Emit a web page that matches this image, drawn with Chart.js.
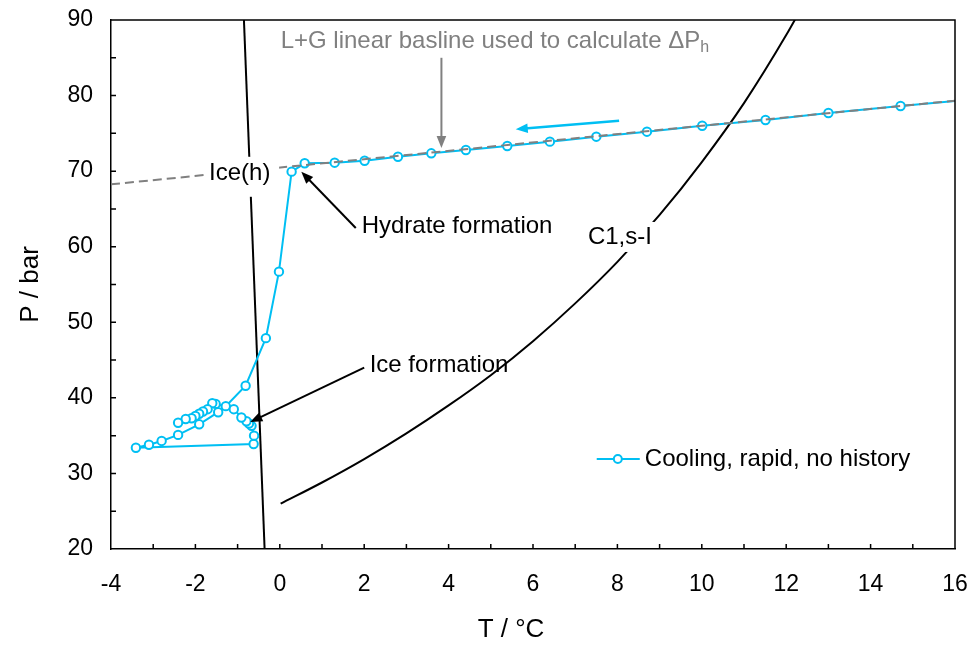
<!DOCTYPE html>
<html>
<head>
<meta charset="utf-8">
<title>Pressure-temperature trace</title>
<script src="https://cdn.jsdelivr.net/npm/chart.js@4.4.0/dist/chart.umd.min.js"></script>
<style>
  html, body { margin: 0; padding: 0; background: #ffffff; }
</style>
</head>
<body>
<canvas id="ptChart" width="973" height="646"></canvas>
<script>
// cooling run, rapid, no history (T in degC, P in bar), in measurement order
const coolT = [16.4, 14.71, 13.00, 11.51, 10.01, 8.70, 7.50, 6.40, 5.39, 4.41, 3.59, 2.80, 2.01, 1.30, 0.59, 0.28,
  -0.02, -0.33, -0.81, -1.28, -1.46, -1.91, -2.41, -2.80, -3.10, -3.41,
  -0.62, -0.61, -0.67, -0.73, -0.79, -0.91, -1.09, -1.52, -1.60, -1.71, -1.82, -1.91, -2.00, -2.09, -2.23, -2.41];
const coolP = [79.5, 78.62, 77.69, 76.77, 76.01, 75.22, 74.56, 73.90, 73.33, 72.80, 72.36, 71.91, 71.38, 71.12, 71.04, 69.93,
  56.7, 47.9, 41.6, 38.9, 38.1, 36.5, 35.1, 34.3, 33.8, 33.4,
  33.9, 35.0, 36.3, 36.6, 36.9, 37.4, 38.5, 39.2, 39.3, 38.5, 38.2, 37.9, 37.6, 37.3, 37.2, 36.7];

// ice Ih melting line
const iceT = [-0.85, -0.36];
const iceP = [90, 20];

// methane s-I hydrate equilibrium
const hydT = [0.02, 1, 2, 3, 4, 5, 6, 7, 8, 9, 10, 11, 12, 12.5];
const hydP = [26.0, 28.8, 31.9, 35.3, 39.0, 43.0, 47.5, 52.5, 58.0, 64.2, 71.2, 79.0, 88.0, 93.0];

// L+G linear baseline
const baseT = [-4, 16];
const baseP = [68.26, 79.33];

const xRange = [-4, 16];
const yRange = [20, 90];

const BLUE = '#00BFF3';
const GREY = '#808080';
const FONT = '"Liberation Sans", Arial, sans-serif';

const pts = (xs, ys) => xs.map((x, i) => ({ x: x, y: ys[i] }));

function arrow(ctx, x1, y1, x2, y2, color, width, head) {
  const a = Math.atan2(y2 - y1, x2 - x1);
  ctx.save();
  ctx.strokeStyle = color;
  ctx.fillStyle = color;
  ctx.lineWidth = width;
  ctx.beginPath();
  ctx.moveTo(x1, y1);
  ctx.lineTo(x2 - Math.cos(a) * head * 0.7, y2 - Math.sin(a) * head * 0.7);
  ctx.stroke();
  ctx.beginPath();
  ctx.moveTo(x2, y2);
  ctx.lineTo(x2 - head * Math.cos(a - 0.38), y2 - head * Math.sin(a - 0.38));
  ctx.lineTo(x2 - head * Math.cos(a + 0.38), y2 - head * Math.sin(a + 0.38));
  ctx.closePath();
  ctx.fill();
  ctx.restore();
}

// frame, inside tick marks, labels, arrows and the legend
const decor = {
  id: 'decor',
  afterDatasetsDraw(chart) {
    const ctx = chart.ctx;
    const xs = chart.scales.x, ys = chart.scales.y;
    const X = v => xs.getPixelForValue(v);
    const Y = v => ys.getPixelForValue(v);
    const { left, right, top, bottom } = chart.chartArea;

    ctx.save();
    ctx.strokeStyle = '#000';
    ctx.lineWidth = 1.5;
    ctx.beginPath();
    ctx.moveTo(left, top); ctx.lineTo(right, top); ctx.lineTo(right, bottom);
    for (let t = xRange[0] + 1; t < xRange[1]; t++) {
      ctx.moveTo(X(t), bottom); ctx.lineTo(X(t), bottom - 5);
    }
    for (let p = yRange[0] + 5; p < yRange[1]; p += 5) {
      ctx.moveTo(left, Y(p)); ctx.lineTo(left + 5, Y(p));
    }
    ctx.stroke();

    ctx.font = '24px ' + FONT;
    ctx.textBaseline = 'middle';

    // Ice(h) label sits on a white patch over the lines
    ctx.fillStyle = '#fff';
    ctx.fillRect(X(-1.77), Y(71.9), 74, 40);
    ctx.fillStyle = '#000';
    ctx.textAlign = 'center';
    ctx.fillText('Ice(h)', X(-0.95), Y(69.75));

    // C1,s-I label on the equilibrium curve
    const cw = ctx.measureText('C1,s-I').width;
    ctx.fillStyle = '#fff';
    ctx.fillRect(X(8.06) - cw / 2 - 3, Y(61.29) - 15, cw + 6, 30);
    ctx.fillStyle = '#000';
    ctx.fillText('C1,s-I', X(8.06), Y(61.29));

    ctx.textAlign = 'left';
    ctx.fillText('Hydrate formation', X(1.94), Y(62.74));
    ctx.fillText('Ice formation', X(2.13), Y(44.35));
    arrow(ctx, X(1.80), Y(62.48), X(0.51), Y(69.93), '#000', 2, 13);
    arrow(ctx, X(2.0), Y(44.0), X(-0.7), Y(36.8), '#000', 2, 13);

    // baseline note with subscript
    ctx.fillStyle = GREY;
    const note = 'L+G linear basline used to calculate \u0394P';
    ctx.fillText(note, X(0.02), Y(87.2));
    const nw = ctx.measureText(note).width;
    ctx.font = '16px ' + FONT;
    ctx.fillText('h', X(0.02) + nw, Y(87.2) + 6);
    arrow(ctx, X(3.83), Y(85.0), X(3.83), Y(73.06), GREY, 2, 13);

    // cooling direction
    arrow(ctx, X(8.04), Y(76.67), X(5.59), Y(75.54), BLUE, 2.5, 13);

    // legend
    const ly = Y(31.91);
    ctx.strokeStyle = BLUE;
    ctx.lineWidth = 2;
    ctx.beginPath();
    ctx.moveTo(X(7.51), ly); ctx.lineTo(X(8.53), ly);
    ctx.stroke();
    ctx.fillStyle = '#fff';
    ctx.beginPath();
    ctx.arc(X(8.01), ly, 4, 0, Math.PI * 2);
    ctx.fill(); ctx.stroke();
    ctx.fillStyle = '#000';
    ctx.font = '24px ' + FONT;
    ctx.fillText('Cooling, rapid, no history', X(8.65), ly);

    // axis titles
    ctx.font = '26px ' + FONT;
    ctx.textAlign = 'center';
    ctx.fillText('T / \u00B0C', 511, 630);
    ctx.translate(31, (top + bottom) / 2);
    ctx.rotate(-Math.PI / 2);
    ctx.fillText('P / bar', 0, 0);
    ctx.restore();
  }
};

new Chart(document.getElementById('ptChart'), {
  type: 'line',
  data: {
    datasets: [
      {
        label: 'L+G baseline',
        data: pts(baseT, baseP),
        borderColor: GREY,
        borderWidth: 2,
        borderDash: [9, 5],
        pointRadius: 0,
        order: 0
      },
      {
        label: 'Cooling, rapid, no history',
        data: pts(coolT, coolP),
        borderColor: BLUE,
        borderWidth: 2,
        pointRadius: 4.2,
        pointBorderWidth: 2,
        pointBackgroundColor: '#fff',
        pointBorderColor: BLUE,
        order: 1
      },
      {
        label: 'Ice(h)',
        data: pts(iceT, iceP),
        borderColor: '#000',
        borderWidth: 2,
        pointRadius: 0,
        order: 2
      },
      {
        label: 'C1,s-I',
        data: pts(hydT, hydP),
        borderColor: '#000',
        borderWidth: 2,
        pointRadius: 0,
        cubicInterpolationMode: 'monotone',
        order: 3
      }
    ]
  },
  options: {
    responsive: false,
    animation: false,
    devicePixelRatio: 1,
    layout: { padding: { left: 0, right: 18, top: 20, bottom: 0 } },
    plugins: { legend: { display: false }, tooltip: { enabled: false } },
    scales: {
      x: {
        type: 'linear',
        min: xRange[0],
        max: xRange[1],
        afterFit: s => { s.height = 97; s.paddingLeft = 0; s.paddingRight = 0; },
        grid: { display: false, drawTicks: false },
        border: { display: true, color: '#000', width: 1.5 },
        ticks: { stepSize: 2, padding: 22, color: '#000', font: { family: FONT, size: 23 } }
      },
      y: {
        type: 'linear',
        min: yRange[0],
        max: yRange[1],
        afterFit: s => { s.width = 111; s.paddingTop = 0; s.paddingBottom = 0; },
        grid: { display: false, drawTicks: false },
        border: { display: true, color: '#000', width: 1.5 },
        ticks: { stepSize: 10, padding: 18, color: '#000', font: { family: FONT, size: 23 } }
      }
    }
  },
  plugins: [decor]
});
</script>
</body>
</html>
